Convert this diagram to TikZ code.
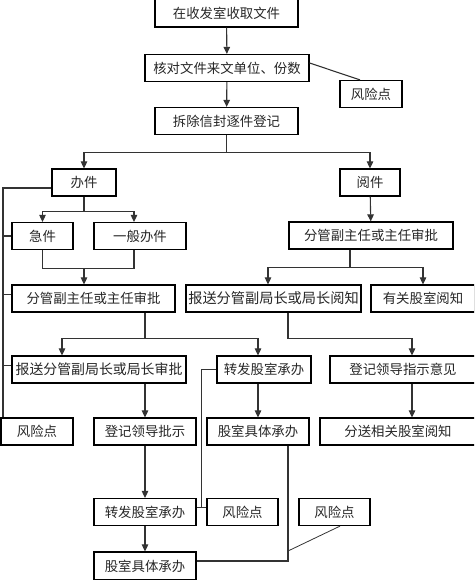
\documentclass[tikz,border=0pt]{standalone}
\usepackage{fontspec}
\setmainfont{Noto Sans CJK SC}
\usetikzlibrary{arrows.meta,calc}

\begin{document}
\begin{tikzpicture}[x=1pt,y=-1pt,
    box/.style={draw=black,line width=1.2pt,minimum height=27pt,inner sep=0pt,
                font=\fontsize{13.4}{15}\selectfont,text=black!85},
    link/.style={line width=1.1pt,black!80},
    flow/.style={link,-{Triangle[length=7pt,width=6.5pt]}}]
                \useasboundingbox (0,0) rectangle (474,580);
                \clip (0,0) rectangle (474,580);

                \node[box,minimum width=143pt,minimum height=28pt] (shou) at (226.5,13) {在收发室收取文件};
                \node[box,minimum width=164pt] (hedui) at (227,68) {核对文件来文单位、份数};
                \node[box,minimum width=62pt] (risk1) at (371,94) {风险点};
                \node[box,minimum width=143pt] (chai) at (226.5,121) {拆除信封逐件登记};
                \node[box,minimum width=64pt] (banjian) at (84,182.5) {办件};
                \node[box,minimum width=60pt] (yuejian) at (370,182.5) {阅件};
                \node[box,minimum width=61pt] (jijian) at (42.5,236) {急件};
                \node[box,minimum width=92pt] (yiban) at (140,236) {一般办件};
                \node[box,minimum width=164pt] (fgR) at (371,235.5) {分管副主任或主任审批};
                \node[box,minimum width=163pt] (fgL) at (93.5,298.5) {分管副主任或主任审批};
                \node[box,minimum width=175pt,font=\fontsize{14.2}{16}\selectfont] (bsYue) at (273.5,298.5) {报送分管副局长或局长阅知};
                \node[box,minimum width=104pt] (yougu) at (423,298.5) {有关股室阅知};
                \node[box,minimum width=174pt,font=\fontsize{13.9}{16}\selectfont] (bsShen) at (99,369.5) {报送分管副局长或局长审批};
                \node[box,minimum width=94pt] (zfA) at (264,369.5) {转发股室承办};
                \node[box,minimum width=146pt] (djYj) at (403,369.5) {登记领导指示意见};
                \node[box,minimum width=72pt] (risk2) at (37,431.5) {风险点};
                \node[box,minimum width=102pt] (djPs) at (145,431.5) {登记领导批示};
                \node[box,minimum width=102pt] (gsA) at (258,431.5) {股室具体承办};
                \node[box,minimum width=156pt] (fsong) at (398,431.5) {分送相关股室阅知};
                \node[box,minimum width=102pt] (zfB) at (145,512) {转发股室承办};
                \node[box,minimum width=71pt] (risk3) at (242.5,512) {风险点};
                \node[box,minimum width=71pt] (risk4) at (334.5,512) {风险点};
                \node[box,minimum width=102pt,minimum height=28pt] (gsB) at (145,566) {股室具体承办};

                \draw[flow] (shou) -- (hedui);
                \draw[flow] (hedui) -- (chai);
                \draw[link] ([yshift=5pt]hedui.east) -- ([xshift=-11pt]risk1.north);

                \draw[link] (chai.south) -- ++(0,17) coordinate (fen);
                \draw[flow] (fen) -| (banjian.north);
                \draw[flow] (fen) -| (yuejian.north);

                \draw[link] (banjian.south) -- ++(0,15) coordinate (bjs);
                \draw[flow] (bjs) -| (jijian.north);
                \draw[flow] (bjs) -| ([xshift=-6pt]yiban.north);
                \draw[link] (jijian.south) -- ++(0,18) coordinate (hb) -| ([xshift=-6pt]yiban.south);
                \draw[flow] (banjian |- hb) -- (banjian |- fgL.north);

                \draw[flow] (yuejian) -- (fgR);
                \draw[link] ([xshift=-21pt]fgR.south) -- ++(0,18) coordinate (ys);
                \draw[flow] (ys) -| ([xshift=-5.5pt]bsYue.north);
                \draw[flow] (ys) -| (yougu.north);

                \draw[link] ([xshift=51.5pt]fgL.south) -- ++(0,26) coordinate (fs1);
                \draw[flow] (fs1) -| ([xshift=-37pt]bsShen.north);
                \draw[flow] (fs1) -| ([xshift=-6pt]zfA.north);
                \draw[link] ([xshift=14.5pt]bsYue.south) -- ++(0,26) coordinate (fs2);
                \draw[flow] (fs2) -| ([xshift=9pt]djYj.north);

                \draw[flow] ([xshift=46pt]bsShen.south) -- (djPs.north);
                \draw[flow] ([xshift=-6pt]zfA.south) -- (gsA.north);
                \draw[flow] ([xshift=9pt]djYj.south) -- ([xshift=14pt]fsong.north);
                \draw[flow] (djPs) -- (zfB);
                \draw[flow] (zfB) -- (gsB);

                \coordinate (lv) at (3,0);
                \draw[link,line width=1.6pt] ([yshift=-5.5pt]banjian.west) -| (lv |- risk2.north);
                \draw[link] (jijian.west) -- ++(-9,0);
                \draw[link] ([yshift=4pt]fgL.west) -- ++(-9,0);
                \draw[link] ([yshift=4pt]bsShen.west) -- ++(-9,0);

                \draw[link,line width=0.8pt] ([yshift=5pt]zfB.east) -- ([yshift=5pt]risk3.west);
                \draw[link,line width=0.8pt] (zfA.west) -| ($([yshift=5pt]zfB.east)!0.5!([yshift=5pt]risk3.west)$);

                \draw[link,line width=1.6pt] ([xshift=30pt]gsA.south) |- ([yshift=5pt]gsB.east);
                \coordinate (kink) at (288,551);
                \draw[link,line width=0.8pt] (kink) -- ([xshift=5.5pt]risk4.south);
\end{tikzpicture}
\end{document}
